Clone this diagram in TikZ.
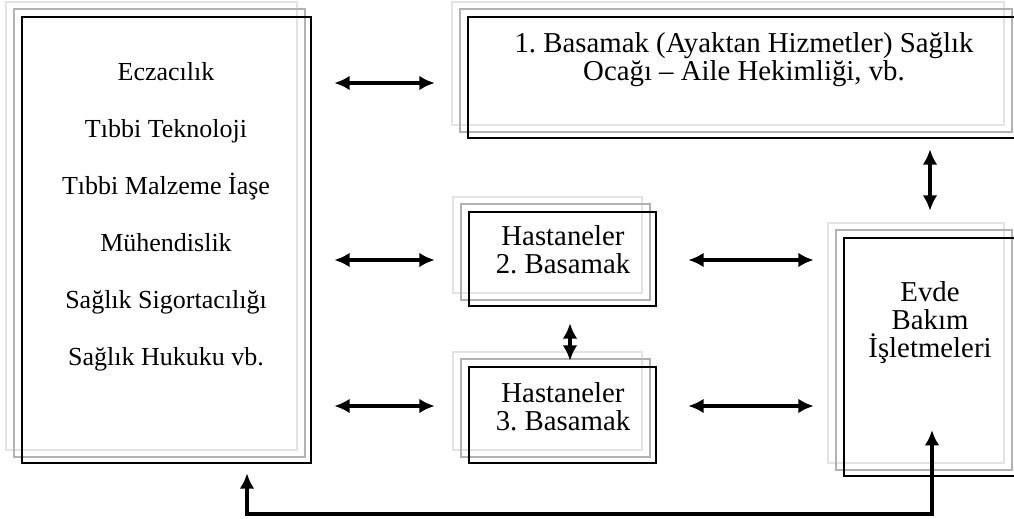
\documentclass[tikz,border=0pt]{standalone}
\usepackage{fontspec}
\setmainfont{Liberation Serif}
\frenchspacing
\usetikzlibrary{arrows.meta,fit,calc,backgrounds}
\tikzset{
  box/.style={draw=black, line width=1.9pt, inner sep=0pt, rectangle},
  frameA/.style={draw=gray!60, line width=1.7pt},
  frameB/.style={draw=gray!22, line width=1.7pt},
  arr/.style={line width=2.3pt, {Latex[length=11.5pt,width=11pt]}-{Latex[length=11.5pt,width=11pt]}},
  lefttxt/.style={anchor=base, inner sep=0pt, font=\fontsize{19.5pt}{21pt}\selectfont},
  boxtxt/.style={anchor=base, inner sep=0pt, align=center, font=\fontsize{21.6pt}{21pt}\selectfont},
}
\begin{document}
\begin{tikzpicture}[x=0.75pt,y=-0.75pt]
\useasboundingbox (0,0) rectangle (1014,518);
% main boxes
\node[box, fit={(22,17) (311,463)}] (L) {};
\node[box, fit={(468,17) (1018,138)}] (T) {};
\node[box, fit={(469,212) (656,306)}] (H2) {};
\node[box, fit={(469,367) (656,463)}] (H3) {};
\node[box, fit={(844,238) (1018,476)}] (E) {};
% stacked frames
\begin{scope}[on background layer]
\foreach \n in {L,T,H2,H3,E}{
  \draw[frameB] ($(\n.north west)+(-15,-14)$) rectangle ($(\n.south east)+(-15,-14)$);
  \draw[frameA] ($(\n.north west)+(-7,-7)$) rectangle ($(\n.south east)+(-7,-7)$);
}
\end{scope}
% texts (base anchor = baseline of the last line)
\node[lefttxt] (l1) at (166,80) {Eczacılık};
\node[lefttxt] (l2) at (166,137) {Tıbbi Teknoloji};
\node[lefttxt] (l3) at (166,194) {Tıbbi Malzeme İaşe};
\node[lefttxt] (l4) at (166,251) {Mühendislik};
\node[lefttxt] (l5) at (166,308) {Sağlık Sigortacılığı};
\node[lefttxt] (l6) at (166,365) {Sağlık Hukuku vb.};
\node[boxtxt] (t1) at (744,80) {1. Basamak (Ayaktan Hizmetler) Sağlık\\Ocağı – Aile Hekimliği, vb.};
\node[boxtxt] (h2t) at (563,273) {Hastaneler\\2. Basamak};
\node[boxtxt] (h3t) at (563,430) {Hastaneler\\3. Basamak};
\node[boxtxt] (et) at (930,357) {Evde\\Bakım\\İşletmeleri};
% connectors
\draw[arr, shorten <=16.5pt, shorten >=24pt] (L.east |- 0,83) -- (T.west |- 0,83);
\draw[arr, shorten <=16.5pt, shorten >=24.75pt] (L.east |- 0,260) -- (H2.west |- 0,260);
\draw[arr, shorten <=16.5pt, shorten >=24.75pt] (L.east |- 0,406) -- (H3.west |- 0,406);
\draw[arr, shorten <=23.25pt, shorten >=21.75pt] (H2.east |- 0,260) -- (E.west |- 0,260);
\draw[arr, shorten <=23.25pt, shorten >=21.75pt] (H3.east |- 0,406) -- (E.west |- 0,406);
\draw[arr, shorten <=12pt, shorten >=3.75pt] (H2.south -| 570,0) -- (H3.north -| 570,0);
\draw[arr, shorten <=7.5pt, shorten >=19.5pt] (T.south -| 930,0) -- (E.north -| 930,0);
\coordinate (b1) at (247,514);
\coordinate (b2) at (932,514);
\coordinate (etip) at (932,430);
\draw[arr, shorten <=6.75pt] (L.south -| b1) -- (b1) -- (b2) -- (etip);
\end{tikzpicture}
\end{document}
